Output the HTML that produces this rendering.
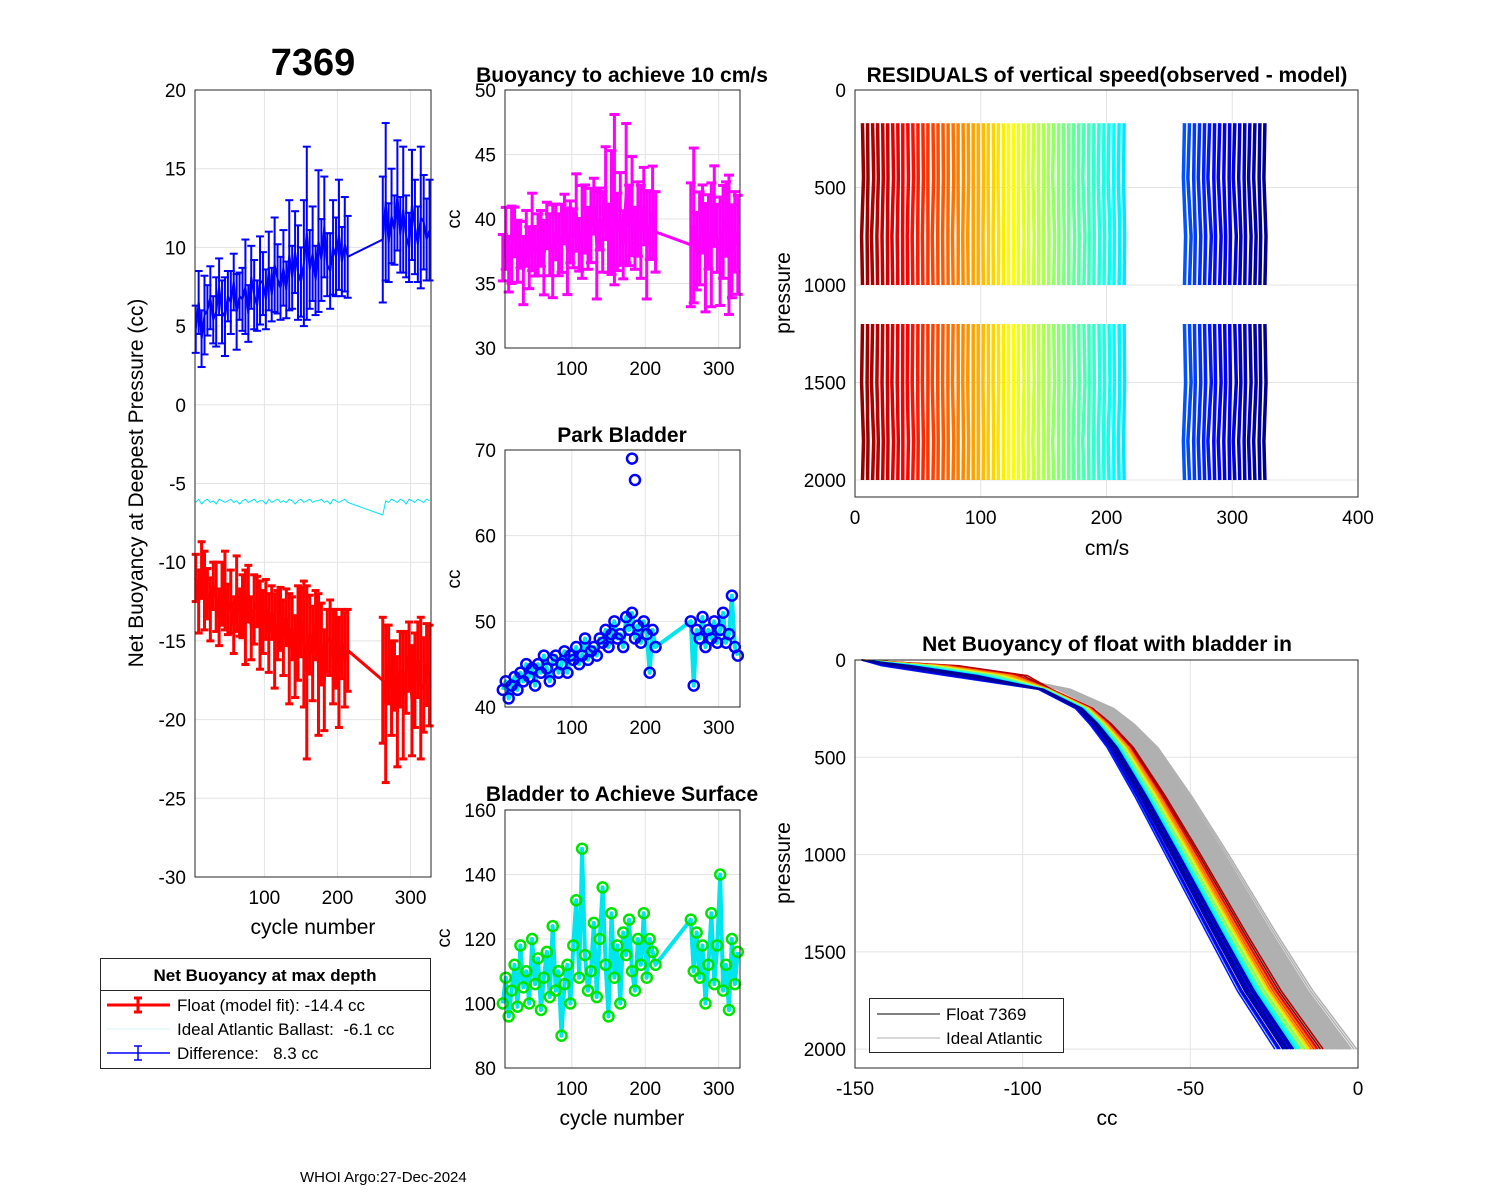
<!DOCTYPE html>
<html><head><meta charset="utf-8"><style>
html,body{margin:0;padding:0;background:#fff;}
svg{display:block;font-family:"Liberation Sans",Arial,sans-serif;}
text{white-space:pre;}
</style></head><body>
<svg id="fig" width="1500" height="1200" viewBox="0 0 1500 1200" xmlns="http://www.w3.org/2000/svg">
<rect width="1500" height="1200" fill="#fff"/>
</svg>
<script>
// ---- data ----
const cycles = [6,10,14,18,22,26,30,34,38,42,46,50,54,58,62,66,70,74,78,82,86,90,94,98,102,106,110,114,118,122,126,130,134,138,142,146,150,154,158,162,166,170,174,178,182,186,190,194,198,202,206,210,214,
262,266,270,274,278,282,286,290,294,298,302,306,310,314,318,322,326];
const floatNet = [-11,-12.5,-10.5,-11.8,-12,-13,-11.5,-12.2,-13.5,-12, -11.8,-13,-12.5,-14,-12,-13.2,-12.8,-13.5,-12,-14.2, -13,-12.5,-14,-13.8,-13,-14.5,-13.2,-15,-14,-13.6, -14.8,-13.5,-15.5,-14.2,-16,-14.5,-13.8,-15.2,-17,-14.6, -15.8,-14,-16.5,-15.2,-17.5,-15,-14.8,-16,-15.5,-17, -15.2,-16.2,-15.6,
-17.5,-19,-16.5,-18,-17.2,-19.5,-16.8,-18.5,-17,-16,-18.8,-17.5,-16.2,-18,-17.8,-16.5,-17.2];
const floatErr = [1.5,2,1.8,2.5,1.6,2,1.5,2.2,1.8,2, 2.5,1.6,2,1.8,2.4,1.5,2,3,1.8,2, 2.2,1.6,2.8,2,1.9,2.5,1.7,3,2.2,2, 2.4,1.8,3.5,2,2.6,3,2.2,4,5.5,2.5, 3,2.2,4.5,2.6,3.2,2,2.4,3,2.5,3.5, 2.2,3,2.6,
4,5,2.5,3,2.2,3.5,2.4,4,2.6,2.2,3.5,3,2.4,4.5,3,2.6,3.2];
const idealNet = [-6.2,-6.0,-6.3,-6.1,-6.0,-6.2,-6.1,-6.3,-6.0,-6.1, -6.2,-6.1,-6.0,-6.2,-6.1,-6.3,-6.1,-6.0,-6.2,-6.1, -6.0,-6.2,-6.1,-6.1,-6.3,-6.0,-6.2,-6.1,-6.0,-6.2, -6.1,-6.2,-6.0,-6.1,-6.3,-6.1,-6.0,-6.2,-6.1,-6.0, -6.2,-6.1,-6.1,-6.0,-6.2,-6.1,-6.3,-6.0,-6.1,-6.2, -6.1,-6.0,-6.2,
-7.0,-6.1,-6.2,-6.0,-6.1,-6.2,-6.0,-6.1,-6.3,-6.0,-6.1,-6.2,-6.0,-6.1,-6.2,-6.0,-6.1];
const buoy10 = [37,38.5,36.5,38,39,37.5,38,36,38.5,37, 39,37.5,38,38.5,37,39.5,38,37.5,39,38, 38.5,40,37.5,39,38.5,40.5,38,39,40,38.5, 39.5,41,38,40,39,42,38.5,40.5,41.5,39, 40,38,42,39.5,41,38.5,40,39,41,38, 39.5,40.5,39,
38,39.5,37.5,38.5,40,37,39,38,41,38.5,37.5,39,40,38,37.5,39,38];
const parkBladder = [42,43,41,42.5,43.5,42,44,43,45,43.5, 44.5,42.5,45,44,46,44.5,43,45.5,46,44, 45,46.5,44,46,45.5,47,45,46,48,45.5, 46.5,47,46,48,47.5,49,47,48.5,50,48, 48.5,47,50.5,49,51,48,49.5,47.5,50,48.5, 44,49,47,
50,42.5,49,48,50.5,47,49,48,50,47.5,49,51,47.5,48.5,53,47,46];
const parkOutCycles = [182,186];
const parkOutVals = [69,66.5];
const surfBladder = [100,108,96,104,112,99,118,105,110,100, 120,106,114,98,108,116,102,124,104,110, 90,106,112,100,118,132,108,148,115,104, 110,125,102,120,136,112,96,128,108,118, 100,122,115,126,110,104,120,112,128,108, 120,116,112,
126,110,122,108,118,100,112,128,106,118,140,104,112,98,120,106,116];
const profP = [0,30,80,150,250,330,450,700,1000,1400,1700,2000];
const profCC = [-148,-128,-108,-93,-81,-76,-70,-61,-51,-38,-28,-16];
const netSummary = ["Float (model fit): -14.4 cc","Ideal Atlantic Ballast:  -6.1 cc","Difference:   8.3 cc"];

const NS="http://www.w3.org/2000/svg";
const fig=document.getElementById('fig');
function el(tag,attrs,parent){const e=document.createElementNS(NS,tag);for(const k in attrs)e.setAttribute(k,attrs[k]);(parent||fig).appendChild(e);return e;}
function txt(s,x,y,size,opts,parent){const t=el('text',Object.assign({x:x,y:y,'font-size':size,fill:'#000'},opts||{}),parent);t.textContent=s;return t;}
function jet(v){v=Math.max(0,Math.min(1,v));const r=Math.max(0,Math.min(1,1.5-Math.abs(4*v-3))),g=Math.max(0,Math.min(1,1.5-Math.abs(4*v-2))),b=Math.max(0,Math.min(1,1.5-Math.abs(4*v-1)));return `rgb(${Math.round(r*255)},${Math.round(g*255)},${Math.round(b*255)})`;}
function cycCol(c){return jet(1-c/330);}

function axes(name,x0,x1,y0,y1,xd,yd,xt,yt){
  const g=el('g',{});
  
  
  const sx=v=>x0+(v-xd[0])/(xd[1]-xd[0])*(x1-x0);
  const sy=v=>y0+(v-yd[0])/(yd[1]-yd[0])*(y1-y0);
  el('rect',{x:x0,y:y0,width:x1-x0,height:y1-y0,fill:'#fff'},g);
  xt.forEach(v=>{el('line',{x1:sx(v),x2:sx(v),y1:y0,y2:y1,stroke:'#e3e3e3','stroke-width':1},g);
    const t=txt(String(v),sx(v),y1+27,19,{'text-anchor':'middle'},g);
    });
  yt.forEach(v=>{el('line',{x1:x0,x2:x1,y1:sy(v),y2:sy(v),stroke:'#e3e3e3','stroke-width':1},g);
    const t=txt(String(v),x0-9,sy(v)+7,19,{'text-anchor':'end'},g);
    });
  const plot=el('g',{},g);
  const fr=el('rect',{x:x0,y:y0,width:x1-x0,height:y1-y0,fill:'none',stroke:'#262626','stroke-width':1});
  
  
  return {sx,sy,g:plot};
}
function ebar(p,x,yv,e,col,w,sw){
  const X=p.sx(x),Ya=p.sy(yv-e),Yb=p.sy(yv+e);
  el('line',{x1:X,x2:X,y1:Ya,y2:Yb,stroke:col,'stroke-width':sw},p.g);
  el('line',{x1:X-w,x2:X+w,y1:Ya,y2:Ya,stroke:col,'stroke-width':sw},p.g);
  el('line',{x1:X-w,x2:X+w,y1:Yb,y2:Yb,stroke:col,'stroke-width':sw},p.g);
}
function poly(p,xs,ys,col,sw,name){const pts=xs.map((x,i)=>p.sx(x).toFixed(1)+','+p.sy(ys[i]).toFixed(1)).join(' ');
  const l=el('polyline',{points:pts,fill:'none',stroke:col,'stroke-width':sw,'stroke-linejoin':'round'},p.g);
  return l;}

// ---- Panel 1 ----
const p1=axes('net-buoyancy-axes',195,431,90,877,[5,328],[20,-30],[100,200,300],[-30,-25,-20,-15,-10,-5,0,5,10,15,20]);
const diff=cycles.map((c,i)=>idealNet[i]-floatNet[i]);
poly(p1,cycles,idealNet,'#00e5ee',1,'ideal-ballast-line');
cycles.forEach((c,i)=>ebar(p1,c,floatNet[i],floatErr[i],'#ff0000',4,3));
poly(p1,cycles,floatNet,'#ff0000',3,'float-net-line');
cycles.forEach((c,i)=>ebar(p1,c,diff[i],floatErr[i],'#0000ff',4,2));
poly(p1,cycles,diff,'#0000ff',2,'difference-line');
let t;
t=txt('7369',313,75,38,{'text-anchor':'middle','font-weight':'bold'});
t=txt('Net Buoyancy at Deepest Pressure (cc)',0,0,21,{'text-anchor':'middle',transform:'translate(143,483) rotate(-90)'});
t=txt('cycle number',313,934,21,{'text-anchor':'middle'});

// legend 1
const lg=el('g',{});


el('rect',{x:100.5,y:958.5,width:330,height:110,fill:'#fff',stroke:'#262626'},lg);
el('line',{x1:100.5,x2:430.5,y1:990.5,y2:990.5,stroke:'#262626'},lg);
txt('Net Buoyancy at max depth',265,981,17,{'text-anchor':'middle','font-weight':'bold'},lg);
const lcols=['#ff0000','#00e5ee','#0000ff'],lsw=[3,0.6,1.5];
netSummary.forEach((s,i)=>{const y=1005+i*24;
  el('line',{x1:107,x2:170,y1:y,y2:y,stroke:i==1?'#aee':lcols[i],'stroke-width':lsw[i]},lg);
  if(i!=1){el('line',{x1:138,x2:138,y1:y-7,y2:y+7,stroke:lcols[i],'stroke-width':lsw[i]},lg);
    el('line',{x1:134,x2:142,y1:y-7,y2:y-7,stroke:lcols[i],'stroke-width':lsw[i]},lg);
    el('line',{x1:134,x2:142,y1:y+7,y2:y+7,stroke:lcols[i],'stroke-width':lsw[i]},lg);}
  const e=txt(s,177,y+6,17,{},lg);});

// ---- Panel 2 ----
const p2=axes('buoyancy-10cms-axes',505,740,90,348,[9,329],[50,30],[100,200,300],[30,35,40,45,50]);
cycles.forEach((c,i)=>ebar(p2,c,buoy10[i],floatErr[i]*1.2,'#ff00ff',5,3));
poly(p2,cycles,buoy10,'#ff00ff',3,'buoyancy-10cms-line');
t=txt('Buoyancy to achieve 10 cm/s',622,82,21,{'text-anchor':'middle','font-weight':'bold'});
t=txt('cc',0,0,19,{'text-anchor':'middle',transform:'translate(460,219) rotate(-90)'});

// ---- Panel 3 ----
const p3=axes('park-bladder-axes',505,740,450,707,[9,329],[70,40],[100,200,300],[40,50,60,70]);
poly(p3,cycles,parkBladder,'#00e5ee',4,'park-bladder-line');
cycles.forEach((c,i)=>{const m=el('circle',{cx:p3.sx(c),cy:p3.sy(parkBladder[i]),r:5,fill:'none',stroke:'#0000ff','stroke-width':2.5},p3.g);});
parkOutCycles.forEach((c,i)=>{const m=el('circle',{cx:p3.sx(c),cy:p3.sy(parkOutVals[i]),r:5,fill:'none',stroke:'#0000ff','stroke-width':2.5},p3.g);});
t=txt('Park Bladder',622,442,21,{'text-anchor':'middle','font-weight':'bold'});
t=txt('cc',0,0,19,{'text-anchor':'middle',transform:'translate(460,579) rotate(-90)'});

// ---- Panel 4 ----
const p4=axes('surface-bladder-axes',505,740,810,1068,[9,329],[160,80],[100,200,300],[80,100,120,140,160]);
poly(p4,cycles,surfBladder,'#00e5ee',4,'surface-bladder-line');
cycles.forEach((c,i)=>{const m=el('circle',{cx:p4.sx(c),cy:p4.sy(surfBladder[i]),r:5,fill:'none',stroke:'#00e400','stroke-width':2.5},p4.g);});
t=txt('Bladder to Achieve Surface',622,801,21,{'text-anchor':'middle','font-weight':'bold'});
t=txt('cc',0,0,19,{'text-anchor':'middle',transform:'translate(450,938) rotate(-90)'});
t=txt('cycle number',622,1125,21,{'text-anchor':'middle'});

// ---- Panel 5 residuals ----
const p5=axes('residuals-axes',855,1358,90,497,[0,400],[0,2087],[0,100,200,300,400],[0,500,1000,1500,2000]);
cycles.forEach((c,i)=>{const col=cycCol(c);const d=(floatNet[i]+14)*0.25;
  poly(p5,[c,c+d,c-d,c],[170,450,750,1000],col,3.5,'residual-upper');
  poly(p5,[c,c-d,c+d,c],[1200,1500,1800,2000],col,3.5,'residual-lower');});
t=txt('RESIDUALS of vertical speed(observed - model)',1107,82,21,{'text-anchor':'middle','font-weight':'bold'});
t=txt('pressure',0,0,21,{'text-anchor':'middle',transform:'translate(790,293) rotate(-90)'});
t=txt('cm/s',1107,555,21,{'text-anchor':'middle'});

// ---- Panel 6 profiles ----
const p6=axes('net-buoyancy-profile-axes',855,1358,660,1068,[-150,0],[0,2097],[-150,-100,-50,0],[0,500,1000,1500,2000]);
const nP=profCC.length-1;
cycles.forEach((c,i)=>{const off=(floatNet[i]+14)*1.6;
  poly(p6,profCC.map((v,k)=>v+(off+6)*(k/nP)+(k>2?4:0)),profP,'#b0b0b0',1.5,'ideal-profile');});
cycles.forEach((c,i)=>{const off=(floatNet[i]+14)*1.6;
  poly(p6,profCC.map((v,k)=>v+off*(k/nP)+(k>0&&k<3?off*1.5:0)),profP,cycCol(c),1.5,'float-profile');});
t=txt('Net Buoyancy of float with bladder in',1107,651,21,{'text-anchor':'middle','font-weight':'bold'});
t=txt('pressure',0,0,21,{'text-anchor':'middle',transform:'translate(790,863) rotate(-90)'});
t=txt('cc',1107,1125,21,{'text-anchor':'middle'});
const lg2=el('g',{});


el('rect',{x:869.5,y:998.5,width:194,height:54,fill:'#fff',stroke:'#262626'},lg2);
el('line',{x1:877,x2:940,y1:1014,y2:1014,stroke:'#000','stroke-width':1},lg2);
el('line',{x1:877,x2:940,y1:1038,y2:1038,stroke:'#b0b0b0','stroke-width':1},lg2);
t=txt('Float 7369',946,1020,17,{},lg2);
t=txt('Ideal Atlantic',946,1044,17,{},lg2);

t=txt('WHOI Argo:27-Dec-2024',300,1182,15,{});
</script>
</body></html>
